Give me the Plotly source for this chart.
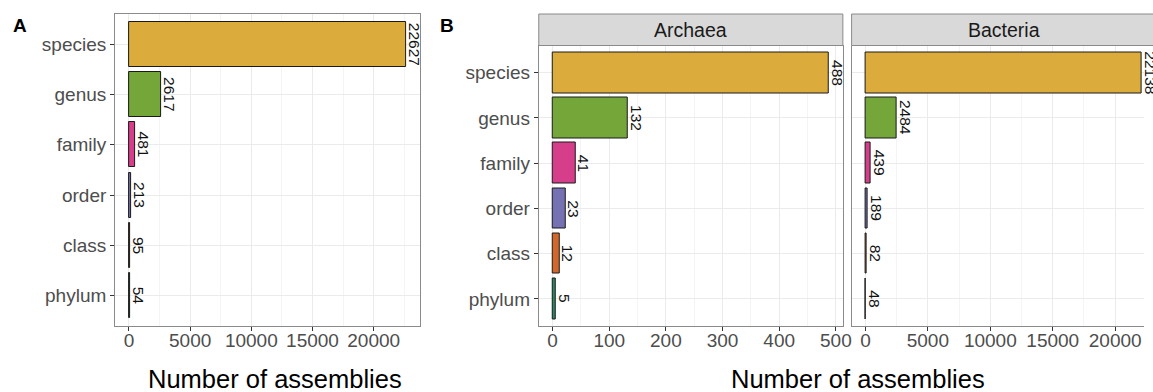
import plotly.graph_objects as go

# ---- data -------------------------------------------------------------
ranks = ["phylum", "class", "order", "family", "genus", "species"]
total_counts = [54, 95, 213, 481, 2617, 22627]
archaea_counts = [5, 12, 23, 41, 132, 488]
bacteria_counts = [48, 82, 189, 439, 2484, 22138]
rank_colors = ["#2A8A66", "#D2672B", "#7571B3", "#D63E8B", "#74A63A", "#DBAB3B"]

A_ticks = [0, 5000, 10000, 15000, 20000]
ARC_ticks = [0, 100, 200, 300, 400, 500]
BAC_ticks = [0, 5000, 10000, 15000, 20000]

# ---- styling ------------------------------------------------------------
W, H = 1153, 392
FONT = "Liberation Sans, Arial, Helvetica, sans-serif"
BORDER = "#8A8A8A"
GRID = "#EBEBEB"
MINOR = "#F4F4F4"
TICKFONT = dict(family=FONT, size=19, color="#4D4D4D")


def px_x(p):
    return p / W


def px_y(p):
    return 1 - p / H


fig = go.Figure()

panels = [
    ("x", "y", total_counts),
    ("x2", "y2", archaea_counts),
    ("x3", "y3", bacteria_counts),
]

for xa, ya, vals in panels:
    fig.add_trace(go.Bar(
        x=vals, y=ranks, orientation="h", width=0.9,
        marker=dict(color=rank_colors, line=dict(color="#1A1A1A", width=1)),
        xaxis=xa, yaxis=ya, showlegend=False, hoverinfo="x+y",
    ))
    for v, r in zip(vals, ranks):
        fig.add_annotation(
            x=v, y=r, xref=xa, yref=ya, text=str(v), textangle=90,
            xanchor="left", yanchor="middle", showarrow=False,
            borderpad=0, borderwidth=0,
            font=dict(family=FONT, size=15.5, color="#111111"),
        )

# x ranges follow a 5% expansion of each panel's data span
a_max = max(total_counts)
arc_max = max(archaea_counts)
bac_max = max(bacteria_counts)
bac_lo = -0.05 * bac_max
# the right-hand panel runs past the page edge, so only part of its span shows
bac_hi = bac_lo + 1.1 * bac_max * (294.7 / 306.5)

plot_top = px_y(14)
plot_bot = px_y(326)
facet_top = px_y(45.5)

common_x = dict(
    showline=True, linecolor=BORDER, linewidth=1, mirror=True,
    ticks="outside", ticklen=4, tickcolor="#333333", tickwidth=1,
    showgrid=True, gridcolor=GRID, gridwidth=1, zeroline=False,
    tickfont=TICKFONT, fixedrange=True, ticklabelstandoff=-7,
)
common_y = dict(
    type="category", categoryorder="array", categoryarray=ranks,
    range=[-0.6, len(ranks) - 0.4],
    showgrid=True, gridcolor=GRID, gridwidth=1, zeroline=False,
    tickfont=TICKFONT, fixedrange=True,
)

fig.update_layout(
    width=W, height=H,
    margin=dict(l=0, r=0, t=0, b=0),
    paper_bgcolor="white", plot_bgcolor="white",
    bargap=0,
    xaxis=dict(common_x, domain=[px_x(116), px_x(423)], anchor="y",
               range=[-0.05 * a_max, 1.05 * a_max],
               tickvals=A_ticks, ticktext=[str(t) for t in A_ticks],
               minor=dict(showgrid=True, gridcolor=MINOR, gridwidth=0.7, dtick=2500, tick0=-2500)),
    yaxis=dict(common_y, domain=[plot_bot, plot_top], anchor="x",
               showline=True, linecolor=BORDER, linewidth=1, mirror=True,
               ticks="outside", ticklen=4, tickcolor="#333333"),
    xaxis2=dict(common_x, domain=[px_x(543), px_x(849.5)], anchor="y2",
                range=[-0.05 * arc_max, 1.05 * arc_max],
                tickvals=ARC_ticks, ticktext=[str(t) for t in ARC_ticks],
                minor=dict(showgrid=True, gridcolor=MINOR, gridwidth=0.7, dtick=50, tick0=-50)),
    yaxis2=dict(common_y, domain=[plot_bot, facet_top], anchor="x2",
                showline=True, linecolor=BORDER, linewidth=1, mirror=True,
                ticks="outside", ticklen=4, tickcolor="#333333"),
    xaxis3=dict(common_x, domain=[px_x(858.3), 1.0], anchor="y3",
                range=[bac_lo, bac_hi], mirror=False,
                tickvals=BAC_ticks, ticktext=[str(t) for t in BAC_ticks],
                minor=dict(showgrid=True, gridcolor=MINOR, gridwidth=0.7, dtick=2500, tick0=-2500)),
    yaxis3=dict(common_y, domain=[plot_bot, facet_top], anchor="x3",
                showline=True, linecolor=BORDER, linewidth=1, mirror=False,
                showticklabels=False, ticks=""),
)

# top border of the right-hand panel (its right edge lies off the page)
fig.add_shape(type="line", xref="paper", yref="paper",
              x0=px_x(858.3), x1=1.02, y0=facet_top, y1=facet_top,
              line=dict(color=BORDER, width=1))

# facet strips
strips = [("Archaea", 543, 849.5), ("Bacteria", 858.3, 1165)]
for label, x0, x1 in strips:
    fig.add_shape(type="rect", xref="paper", yref="paper",
                  x0=px_x(x0), x1=px_x(x1), y0=facet_top, y1=plot_top,
                  fillcolor="#D9D9D9", line=dict(color=BORDER, width=1), layer="below")
    fig.add_annotation(x=px_x((x0 + x1) / 2), y=px_y(29.7), xref="paper", yref="paper",
                       text=label, showarrow=False, xanchor="center", yanchor="middle",
                       font=dict(family=FONT, size=19.5, color="#1A1A1A"))

# axis titles
for cx in (277, 865):
    fig.add_annotation(x=px_x(cx), y=px_y(379), xref="paper", yref="paper",
                       text="Number of assemblies", showarrow=False,
                       xanchor="center", yanchor="middle",
                       font=dict(family=FONT, size=25.5, color="#000000"))

# panel tags
for tag, lx in (("A", 11), ("B", 441)):
    fig.add_annotation(x=px_x(lx), y=px_y(25), xref="paper", yref="paper",
                       text="<b>%s</b>" % tag, showarrow=False,
                       xanchor="left", yanchor="middle",
                       font=dict(family=FONT, size=19, color="#000000"))

fig.write_html("out.html")
